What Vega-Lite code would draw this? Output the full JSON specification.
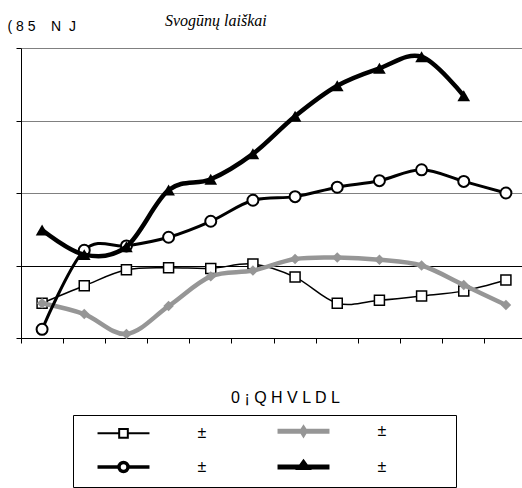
{
  "$schema": "https://vega.github.io/schema/vega-lite/v6.json",
  "width": 506,
  "height": 290,
  "autosize": {"type": "none"},
  "padding": {"left": 21, "top": 48, "right": 0, "bottom": 150},
  "background": "white",
  "config": {"view": {"stroke": null}, "font": "Liberation Sans"},
  "title": {
    "text": "Svogūnų laiškai",
    "font": "Liberation Serif",
    "fontStyle": "italic",
    "fontWeight": "normal",
    "fontSize": 16,
    "color": "black",
    "anchor": "start",
    "frame": "group",
    "dx": 144,
    "dy": 23,
    "baseline": "alphabetic",
    "offset": 0
  },
  "data": {
    "values": [
      {"m": 1, "s": "s1", "v": 0.48}, {"m": 2, "s": "s1", "v": 0.72}, {"m": 3, "s": "s1", "v": 0.94}, {"m": 4, "s": "s1", "v": 0.97},
      {"m": 5, "s": "s1", "v": 0.96}, {"m": 6, "s": "s1", "v": 1.02}, {"m": 7, "s": "s1", "v": 0.84}, {"m": 8, "s": "s1", "v": 0.48},
      {"m": 9, "s": "s1", "v": 0.52}, {"m": 10, "s": "s1", "v": 0.58}, {"m": 11, "s": "s1", "v": 0.65}, {"m": 12, "s": "s1", "v": 0.80},
      {"m": 1, "s": "s2", "v": 0.48}, {"m": 2, "s": "s2", "v": 0.33}, {"m": 3, "s": "s2", "v": 0.055}, {"m": 4, "s": "s2", "v": 0.44},
      {"m": 5, "s": "s2", "v": 0.85}, {"m": 6, "s": "s2", "v": 0.93}, {"m": 7, "s": "s2", "v": 1.09}, {"m": 8, "s": "s2", "v": 1.11},
      {"m": 9, "s": "s2", "v": 1.08}, {"m": 10, "s": "s2", "v": 1.0}, {"m": 11, "s": "s2", "v": 0.73}, {"m": 12, "s": "s2", "v": 0.455},
      {"m": 1, "s": "s3", "v": 0.12}, {"m": 2, "s": "s3", "v": 1.21}, {"m": 3, "s": "s3", "v": 1.27}, {"m": 4, "s": "s3", "v": 1.39},
      {"m": 5, "s": "s3", "v": 1.61}, {"m": 6, "s": "s3", "v": 1.90}, {"m": 7, "s": "s3", "v": 1.95}, {"m": 8, "s": "s3", "v": 2.08},
      {"m": 9, "s": "s3", "v": 2.17}, {"m": 10, "s": "s3", "v": 2.32}, {"m": 11, "s": "s3", "v": 2.16}, {"m": 12, "s": "s3", "v": 2.0},
      {"m": 1, "s": "s4", "v": 1.49}, {"m": 2, "s": "s4", "v": 1.15}, {"m": 3, "s": "s4", "v": 1.26}, {"m": 4, "s": "s4", "v": 2.04},
      {"m": 5, "s": "s4", "v": 2.19}, {"m": 6, "s": "s4", "v": 2.54}, {"m": 7, "s": "s4", "v": 3.06}, {"m": 8, "s": "s4", "v": 3.48},
      {"m": 9, "s": "s4", "v": 3.72}, {"m": 10, "s": "s4", "v": 3.88}, {"m": 11, "s": "s4", "v": 3.34}
    ]
  },
  "encoding": {
    "x": {
      "field": "m",
      "type": "ordinal",
      "scale": {"type": "band", "paddingInner": 0, "paddingOuter": 0, "domain": [1, 2, 3, 4, 5, 6, 7, 8, 9, 10, 11, 12]},
      "axis": {
        "bandPosition": 0,
        "labels": false,
        "grid": false,
        "domainColor": "black",
        "tickColor": "black",
        "tickSize": 5,
        "title": "0 ¡ Q H V L D L",
        "titleFont": "Liberation Sans",
        "titleFontSize": 16,
        "titleFontWeight": "normal",
        "titleColor": "black",
        "titleX": 264,
        "titleY": 59,
        "titleAlign": "center",
        "titleBaseline": "middle"
      }
    },
    "y": {
      "field": "v",
      "type": "quantitative",
      "scale": {"domain": [0, 4], "nice": false},
      "axis": {
        "values": [0, 1, 2, 3, 4],
        "labels": false,
        "grid": true,
        "gridColor": {"condition": {"test": "datum.value === 1", "value": "black"}, "value": "#808080"},
        "domainColor": "black",
        "tickColor": "black",
        "tickSize": 5,
        "title": "(\u00a08\u00a05\u00a0\u00a0\u00a0\u00a0N\u00a0\u00a0J",
        "titleFont": "Liberation Sans",
        "titleFontSize": 14,
        "titleFontWeight": "normal",
        "titleColor": "black",
        "titleAngle": 0,
        "titleAlign": "left",
        "titleBaseline": "alphabetic",
        "titleX": -14,
        "titleY": -18
      }
    }
  },
  "layer": [
    {
      "transform": [{"filter": "datum.s === 's1'"}],
      "mark": {"type": "line", "interpolate": "cardinal", "strokeWidth": 1.5},
      "encoding": {
        "color": {
          "field": "s",
          "type": "nominal",
          "scale": {"domain": ["s1", "s2", "s3", "s4"], "range": ["black", "#969696", "black", "black"]},
          "legend": {
            "orient": "none",
            "legendX": 52,
            "legendY": 367,
            "columns": 2,
            "direction": "horizontal",
            "title": null,
            "strokeColor": "black",
            "padding": 8,
            "symbolSize": 144,
            "symbolOffset": 34.5,
            "labelOffset": 66,
            "columnPadding": 2,
            "rowPadding": 9,
            "labelFont": "Liberation Sans",
            "labelFontSize": 16,
            "labelColor": "black",
            "labelExpr": "'±'",
            "encode": {
              "symbols": {
                "update": {
                  "shape": {"signal": "datum.value === 's1' ? 'M-6.33,0M-4.33,0H-0.72M0.72,0H4.33M-0.72,-0.72H0.72V0.72H-0.72ZM20.4,0' : datum.value === 's2' ? 'M-6.33,0M-4.33,0H4.33M0,-0.4L0.25,0L0,0.4L-0.25,0ZM22.4,0' : datum.value === 's3' ? 'M-6.33,0M-4.33,0H-0.75M0.75,0H4.33M-0.75,0A0.75,0.75,0,1,0,0.75,0A0.75,0.75,0,1,0,-0.75,0ZM20.4,0' : 'M-6.33,0M-4.33,0H4.33M0,-0.65L0.55,0.1L-0.55,0.1ZM22.4,0'"},
                  "fill": {"signal": "datum.value === 's2' ? '#969696' : datum.value === 's4' ? 'black' : 'white'"},
                  "stroke": {"signal": "datum.value === 's2' ? '#969696' : 'black'"},
                  "strokeWidth": {"signal": "datum.value === 's1' ? 2 : datum.value === 's3' ? 3.5 : 5"},
                  "size": {"value": 144},
                  "opacity": {"value": 1}
                }
              }
            }
          }
        }
      }
    },
    {
      "transform": [{"filter": "datum.s === 's1'"}],
      "mark": {"type": "point", "shape": "square", "size": 100, "filled": true, "fill": "white", "stroke": "black", "strokeWidth": 1.5, "opacity": 1}
    },
    {
      "transform": [{"filter": "datum.s === 's2'"}],
      "mark": {"type": "line", "interpolate": "cardinal", "strokeWidth": 4.5},
      "encoding": {"color": {"field": "s", "type": "nominal"}}
    },
    {
      "transform": [{"filter": "datum.s === 's2'"}],
      "mark": {"type": "point", "shape": "diamond", "size": 110, "filled": true, "fill": "#969696", "strokeWidth": 0, "opacity": 1}
    },
    {
      "transform": [{"filter": "datum.s === 's3'"}],
      "mark": {"type": "line", "interpolate": "cardinal", "strokeWidth": 3},
      "encoding": {"color": {"field": "s", "type": "nominal"}}
    },
    {
      "transform": [{"filter": "datum.s === 's3'"}],
      "mark": {"type": "point", "shape": "circle", "size": 121, "filled": true, "fill": "white", "stroke": "black", "strokeWidth": 2, "opacity": 1}
    },
    {
      "transform": [{"filter": "datum.s === 's4'"}],
      "mark": {"type": "line", "interpolate": "cardinal", "strokeWidth": 4.5},
      "encoding": {"color": {"field": "s", "type": "nominal"}}
    },
    {
      "transform": [{"filter": "datum.s === 's4'"}],
      "mark": {"type": "point", "shape": "triangle-up", "size": 160, "filled": true, "fill": "black", "strokeWidth": 0, "opacity": 1}
    }
  ]
}
